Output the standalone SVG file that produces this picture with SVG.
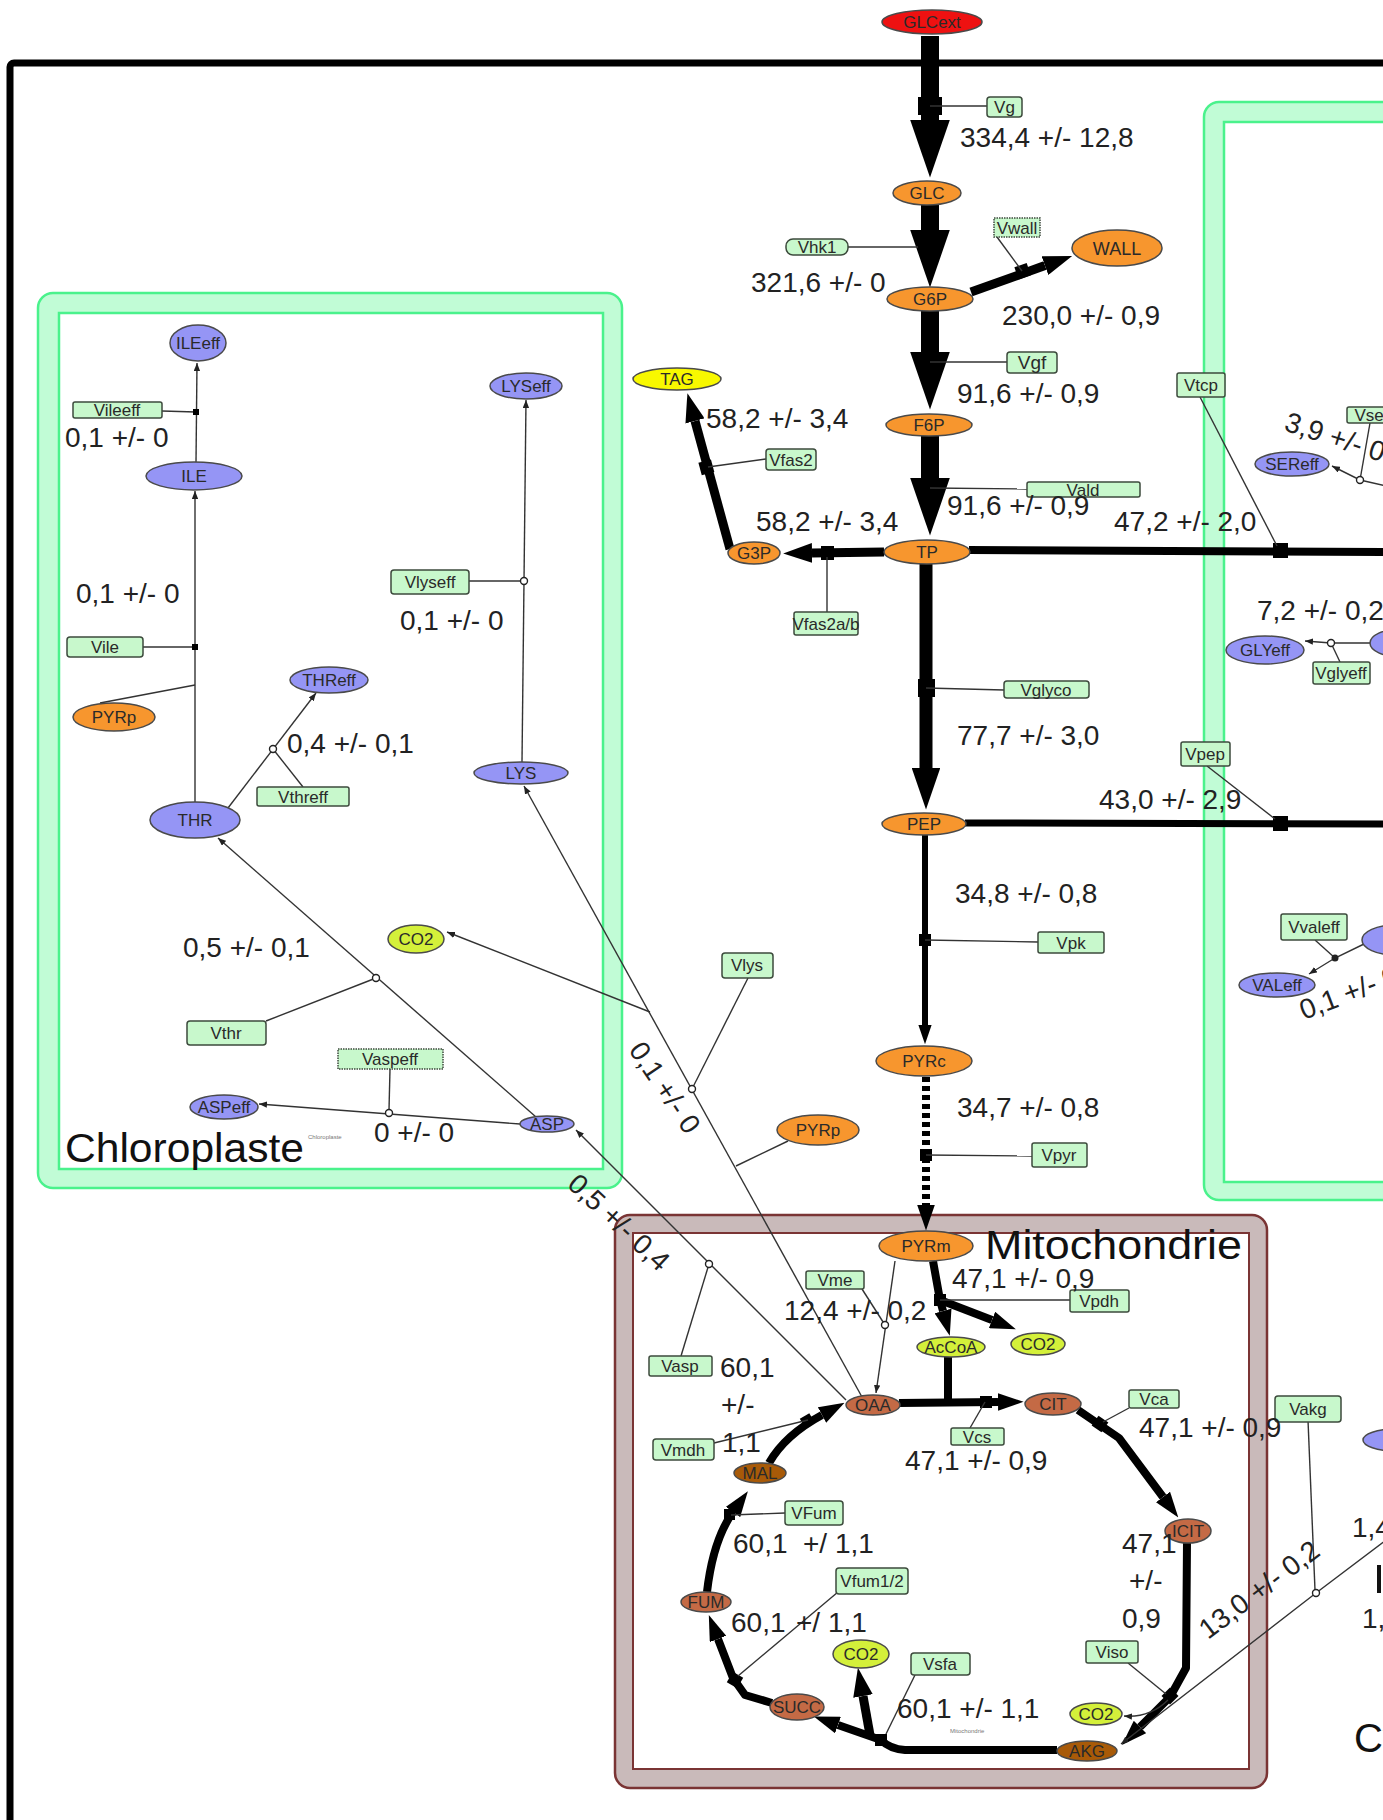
<svg xmlns="http://www.w3.org/2000/svg" width="1383" height="1820" viewBox="0 0 1383 1820">
<defs>
<style>
text{font-family:"Liberation Sans",Arial,sans-serif}
.nl{font-size:17px;fill:#2a2a2a;text-anchor:middle}
.fl{font-size:28px;fill:#222}
.big{font-size:40px;fill:#111}
.tiny{font-size:6px;fill:#777}
.ox{fill:#f7962e;stroke:#4a4a4a;stroke-width:1.5}
.bl{fill:#9595f5;stroke:#4a4a4a;stroke-width:1.5}
.br{fill:#c46a45;stroke:#4a4a4a;stroke-width:1.5}
.db{fill:#a85a08;stroke:#4a4a4a;stroke-width:1.5}
.lm{fill:#d4f03a;stroke:#4a4a4a;stroke-width:1.5}
.rd{fill:#ee1111;stroke:#4a4a4a;stroke-width:1.5}
.ye{fill:#f8f800;stroke:#4a4a4a;stroke-width:1.5}
.bx{fill:#c8f8cc;stroke:#3c4a3c;stroke-width:1.5}
.dt{stroke-dasharray:1.5 1}
.th{fill:none;stroke:#000;stroke-linejoin:round;marker-end:url(#ah)}
.tk{fill:none;stroke:#000;stroke-linejoin:round}
.dash{stroke-dasharray:5 4}
.tn{fill:none;stroke:#333;stroke-width:1.4}
.ta{fill:none;stroke:#333;stroke-width:1.4;marker-end:url(#sa)}
.rn{fill:#000}
.oc{fill:#fff;stroke:#222;stroke-width:1.4}
.gb{fill:#c1fcd6;stroke:#4af28c;stroke-width:2.5}
.gi{fill:#fff;stroke:#4af28c;stroke-width:2.5}
.mb{fill:#c9baba;stroke:#7a3434;stroke-width:2.5}
.mi{fill:#fff;stroke:#7a3434;stroke-width:2}
</style>
<marker id="ah" viewBox="0 0 16 11" refX="0" refY="5.5" markerUnits="strokeWidth" markerWidth="3.2" markerHeight="2.2" orient="auto"><path d="M0,0 L16,5.5 L0,11 z" fill="#000"/></marker>
<marker id="sa" viewBox="0 0 10 8" refX="10" refY="4" markerUnits="userSpaceOnUse" markerWidth="8" markerHeight="6.4" orient="auto"><path d="M0,0 L10,4 L0,8 z" fill="#222"/></marker>
</defs>
<rect width="1383" height="1820" fill="#fff"/>
<rect x="10" y="63" width="1450" height="1800" rx="4" fill="none" stroke="#000" stroke-width="7"/>

<g id="compartments">
<g id="chloroplaste">
<rect class="gb" x="38" y="293" width="584" height="895" rx="15"/>
<rect class="gi" x="59" y="313" width="544" height="856"/>
<text class="big" x="65" y="1162" textLength="239" lengthAdjust="spacingAndGlyphs">Chloroplaste</text>
<text class="tiny" x="308" y="1139">Chloroplaste</text>
</g>
<g id="compartment-right">
<rect class="gb" x="1204" y="102" width="300" height="1098" rx="15"/>
<rect class="gi" x="1224" y="122" width="300" height="1060"/>
</g>
<g id="mitochondrie">
<rect class="mb" x="615" y="1215" width="652" height="573" rx="15"/>
<rect class="mi" x="633" y="1233" width="616" height="536"/>
<text class="big" x="985" y="1259" textLength="257" lengthAdjust="spacingAndGlyphs">Mitochondrie</text>
<text class="tiny" x="950" y="1733">Mitochondrie</text>
</g>
<text class="big" x="1354" y="1752">Cy</text>
<rect x="1377" y="1565" width="4" height="28" fill="#111"/>
</g>

<g id="connectors">
<path class="th" stroke-width="18" d="M930,36 L930,120"/>
<path class="th" stroke-width="18" d="M930,205 L930,230"/>
<path class="th" stroke-width="18" d="M930,311 L930,352"/>
<path class="th" stroke-width="18" d="M930,436 L930,478"/>
<path class="th" stroke-width="13" d="M926,564 L926,768"/>
<path class="th" stroke-width="9" d="M971,292 L1045,265.6"/>
<path class="th" stroke-width="9" d="M884,552 L812,553"/>
<path class="th" stroke-width="9" d="M730,549 L695,421"/>
<path class="tk" stroke-width="8" d="M969,550 L1390,552"/>
<path class="tk" stroke-width="7" d="M965,823 L1390,824"/>
<path class="th" stroke-width="6" d="M925,835 L925,1025"/>
<path class="th dash" stroke-width="8" d="M926,1077 L926,1205"/>
<path class="th" stroke-width="8" d="M933,1261 L940,1300 L943,1311"/>
<path class="th" stroke-width="8" d="M940,1300 L992,1320"/>
<path class="tk" stroke-width="8" d="M948,1357 L948,1402"/>
<path class="th" stroke-width="8" d="M899,1403 L998,1402"/>
<path class="th" stroke-width="8" d="M1078,1410 L1100,1425 L1119,1438 L1163,1497"/>
<path class="th" stroke-width="8" d="M1187,1543 L1186,1668 L1170,1697 L1140,1727"/>
<path class="th" stroke-width="8" d="M1057,1750 L905,1750 Q890,1749 881,1740 L838,1725"/>
<path class="th" stroke-width="9" d="M870,1735 L863,1696"/>
<path class="th" stroke-width="8" d="M772,1703 L745,1695 L733,1678 L718,1639"/>
<path class="th" stroke-width="8" d="M707,1592 Q713,1540 733,1512"/>
<path class="th" stroke-width="8" d="M769,1463 Q785,1435 822,1415"/>
<rect class="rn" x="918" y="97" width="24" height="18"/>
<rect class="rn" x="917" y="354" width="26" height="16"/>
<rect class="rn" x="917" y="481" width="26" height="14"/>
<rect class="rn" x="918" y="679" width="17" height="18"/>
<rect class="rn" x="1016" y="265" width="13" height="13" transform="rotate(-19 1022 271)"/>
<rect class="rn" x="821" y="546" width="13" height="14"/>
<rect class="rn" x="700" y="461" width="13" height="13" transform="rotate(-15 706 468)"/>
<rect class="rn" x="1273" y="543" width="15" height="15"/>
<rect class="rn" x="1273" y="816" width="15" height="15"/>
<rect class="rn" x="919" y="934" width="12" height="12"/>
<rect class="rn" x="920" y="1149" width="12" height="12"/>
<rect class="rn" x="934" y="1294" width="12" height="12"/>
<rect class="rn" x="980" y="1396" width="12" height="12"/>
<rect class="rn" x="1094" y="1418" width="12" height="12" transform="rotate(35 1100 1424)"/>
<rect class="rn" x="1164" y="1690" width="12" height="12" transform="rotate(45 1170 1696)"/>
<rect class="rn" x="875" y="1734" width="12" height="12"/>
<rect class="rn" x="729" y="1674" width="12" height="12" transform="rotate(30 735 1680)"/>
<rect class="rn" x="724" y="1509" width="11" height="11"/>
<rect class="rn" x="802" y="1415" width="11" height="11" transform="rotate(-30 808 1421)"/>
<path class="tn" d="M930,106 L987,106"/>
<path class="tn" d="M848,247 L918,247"/>
<path class="tn" d="M997,237 L1022,271"/>
<path class="tn" d="M930,362 L1007,362"/>
<path class="tn" d="M930,488 L1027,489"/>
<path class="tn" d="M708,467 L766,459"/>
<path class="tn" d="M827,557 L827,612"/>
<path class="tn" d="M1200,397 L1277,546"/>
<path class="tn" d="M926,688 L1004,690"/>
<path class="tn" d="M1207,766 L1275,819"/>
<path class="tn" d="M925,940 L1038,942"/>
<path class="tn" d="M926,1155 L1032,1156"/>
<path class="tn" d="M940,1300 L1070,1300"/>
<path class="tn" d="M985,1402 L970,1428"/>
<path class="tn" d="M1103,1422 L1129,1408"/>
<path class="tn" d="M1128,1663 L1166,1694"/>
<path class="tn" d="M915,1675 L886,1734"/>
<path class="tn" d="M838,1592 L738,1676"/>
<path class="tn" d="M785,1513 L731,1515"/>
<path class="tn" d="M714,1443 L808,1420"/>
<path class="ta" d="M1168,1700 Q1150,1718 1124,1716"/>
<path class="ta" d="M196,462 L197,363"/>
<path class="ta" d="M195,802 L195,491"/>
<path class="tn" d="M162,411 L196,412"/>
<path class="tn" d="M143,647 L195,647"/>
<path class="tn" d="M100,703 L195,685"/>
<path class="ta" d="M228,808 L316,693"/>
<path class="tn" d="M273,749 L303,787"/>
<path class="ta" d="M522,762 L526,400"/>
<path class="tn" d="M469,581 L524,581"/>
<path class="ta" d="M862,1397 L524,786"/>
<path class="tn" d="M692,1089 L748,978"/>
<path class="tn" d="M788,1141 L736,1166"/>
<path class="ta" d="M650,1012 L447,932"/>
<path class="ta" d="M536,1117 L218,838"/>
<path class="tn" d="M266,1021 L376,978"/>
<path class="ta" d="M520,1124 L259,1104"/>
<path class="tn" d="M390,1069 L389,1110"/>
<path class="ta" d="M846,1400 L576,1130"/>
<path class="tn" d="M709,1264 L681,1356"/>
<path class="ta" d="M895,1261 L876,1393"/>
<path class="tn" d="M862,1289 L885,1325"/>
<path class="ta" d="M1395,488 L1360,480 L1332,466"/>
<path class="tn" d="M1370,423 L1360,480"/>
<path class="ta" d="M1372,643 L1331,643 L1305,641"/>
<path class="tn" d="M1331,643 L1340,662"/>
<path class="ta" d="M1364,944 L1335,958 L1309,974"/>
<path class="tn" d="M1315,940 L1335,958"/>
<path class="ta" d="M1390,1537 L1316,1593 L1121,1744"/>
<path class="tn" d="M1307,1396 L1315,1590"/>
<rect class="rn" x="193" y="409" width="6" height="6"/>
<rect class="rn" x="192" y="644" width="6" height="6"/>
<circle class="oc" cx="273" cy="749" r="3.5"/>
<circle class="oc" cx="524" cy="581" r="3.5"/>
<circle class="oc" cx="692" cy="1089" r="3.5"/>
<circle class="oc" cx="376" cy="978" r="3.5"/>
<circle class="oc" cx="389" cy="1113" r="3.5"/>
<circle class="oc" cx="709" cy="1264" r="3.5"/>
<circle class="oc" cx="885" cy="1325" r="3.5"/>
<circle class="oc" cx="1360" cy="480" r="3.5"/>
<circle class="oc" cx="1331" cy="643" r="3.5"/>
<circle cx="1335" cy="958" r="3.5" fill="#222"/>
<circle class="oc" cx="1316" cy="1593" r="3.5"/>
</g>

<g id="n-GLCext"><ellipse class="rd" cx="932" cy="22" rx="50" ry="12"/><text class="nl" x="932" y="28">GLCext</text></g>
<g id="n-GLC"><ellipse class="ox" cx="927" cy="193" rx="34" ry="12"/><text class="nl" x="927" y="199">GLC</text></g>
<g id="n-G6P"><ellipse class="ox" cx="930" cy="299" rx="43" ry="12"/><text class="nl" x="930" y="305">G6P</text></g>
<g id="n-WALL"><ellipse class="ox" cx="1117" cy="248" rx="45" ry="18"/><text class="nl" x="1117" y="255" style="font-size:18px">WALL</text></g>
<g id="n-F6P"><ellipse class="ox" cx="929" cy="425" rx="43" ry="11"/><text class="nl" x="929" y="431">F6P</text></g>
<g id="n-TAG"><ellipse class="ye" cx="677" cy="379" rx="44" ry="11"/><text class="nl" x="677" y="385">TAG</text></g>
<g id="n-G3P"><ellipse class="ox" cx="754" cy="553" rx="26" ry="11"/><text class="nl" x="754" y="559">G3P</text></g>
<g id="n-TP"><ellipse class="ox" cx="927" cy="552" rx="43" ry="12"/><text class="nl" x="927" y="558">TP</text></g>
<g id="n-PEP"><ellipse class="ox" cx="924" cy="824" rx="42" ry="11"/><text class="nl" x="924" y="830">PEP</text></g>
<g id="n-PYRc"><ellipse class="ox" cx="924" cy="1061" rx="48" ry="15"/><text class="nl" x="924" y="1067">PYRc</text></g>
<g id="n-PYRm"><ellipse class="ox" cx="926" cy="1246" rx="47" ry="15"/><text class="nl" x="926" y="1252">PYRm</text></g>
<g id="n-AcCoA"><ellipse class="lm" cx="951" cy="1347" rx="34" ry="10"/><text class="nl" x="951" y="1353">AcCoA</text></g>
<g id="n-CO2a"><ellipse class="lm" cx="1038" cy="1344" rx="27" ry="11"/><text class="nl" x="1038" y="1350">CO2</text></g>
<g id="n-OAA"><ellipse class="br" cx="873" cy="1405" rx="27" ry="10"/><text class="nl" x="873" y="1411">OAA</text></g>
<g id="n-CIT"><ellipse class="br" cx="1053" cy="1404" rx="28" ry="11"/><text class="nl" x="1053" y="1410">CIT</text></g>
<g id="n-ICIT"><ellipse class="br" cx="1188" cy="1531" rx="23" ry="12"/><text class="nl" x="1188" y="1537">ICIT</text></g>
<g id="n-AKG"><ellipse class="db" cx="1087" cy="1751" rx="30" ry="10"/><text class="nl" x="1087" y="1757">AKG</text></g>
<g id="n-CO2b"><ellipse class="lm" cx="1096" cy="1714" rx="26" ry="11"/><text class="nl" x="1096" y="1720">CO2</text></g>
<g id="n-CO2c"><ellipse class="lm" cx="861" cy="1654" rx="28" ry="14"/><text class="nl" x="861" y="1660">CO2</text></g>
<g id="n-SUCC"><ellipse class="br" cx="797" cy="1707" rx="27" ry="13"/><text class="nl" x="797" y="1713">SUCC</text></g>
<g id="n-FUM"><ellipse class="br" cx="706" cy="1602" rx="25" ry="10"/><text class="nl" x="706" y="1608">FUM</text></g>
<g id="n-MAL"><ellipse class="db" cx="760" cy="1473" rx="26" ry="10"/><text class="nl" x="760" y="1479">MAL</text></g>
<g id="n-ILEeff"><ellipse class="bl" cx="198" cy="343" rx="28" ry="18"/><text class="nl" x="198" y="349">ILEeff</text></g>
<g id="n-ILE"><ellipse class="bl" cx="194" cy="476" rx="48" ry="14"/><text class="nl" x="194" y="482">ILE</text></g>
<g id="n-PYRp1"><ellipse class="ox" cx="114" cy="717" rx="41" ry="14"/><text class="nl" x="114" y="723">PYRp</text></g>
<g id="n-THR"><ellipse class="bl" cx="195" cy="820" rx="45" ry="18"/><text class="nl" x="195" y="826">THR</text></g>
<g id="n-THReff"><ellipse class="bl" cx="329" cy="680" rx="39" ry="13"/><text class="nl" x="329" y="686">THReff</text></g>
<g id="n-LYSeff"><ellipse class="bl" cx="526" cy="386" rx="36" ry="13"/><text class="nl" x="526" y="392">LYSeff</text></g>
<g id="n-LYS"><ellipse class="bl" cx="521" cy="773" rx="47" ry="11"/><text class="nl" x="521" y="779">LYS</text></g>
<g id="n-CO2d"><ellipse class="lm" cx="416" cy="939" rx="28" ry="14"/><text class="nl" x="416" y="945">CO2</text></g>
<g id="n-ASP"><ellipse class="bl" cx="547" cy="1124" rx="27" ry="8"/><text class="nl" x="547" y="1130">ASP</text></g>
<g id="n-ASPeff"><ellipse class="bl" cx="224" cy="1107" rx="34" ry="12"/><text class="nl" x="224" y="1113">ASPeff</text></g>
<g id="n-PYRp2"><ellipse class="ox" cx="818" cy="1130" rx="41" ry="15"/><text class="nl" x="818" y="1136">PYRp</text></g>
<g id="n-SEReff"><ellipse class="bl" cx="1292" cy="464" rx="37" ry="12"/><text class="nl" x="1292" y="470">SEReff</text></g>
<g id="n-GLYeff"><ellipse class="bl" cx="1265" cy="650" rx="39" ry="14"/><text class="nl" x="1265" y="656">GLYeff</text></g>
<g id="n-VALeff"><ellipse class="bl" cx="1277" cy="985" rx="38" ry="12"/><text class="nl" x="1277" y="991">VALeff</text></g>
<g id="n-edge1"><ellipse class="bl" cx="1400" cy="643" rx="30" ry="14"/></g>
<g id="n-edge2"><ellipse class="bl" cx="1395" cy="940" rx="33" ry="15"/></g>
<g id="n-edge3"><ellipse class="bl" cx="1395" cy="1440" rx="32" ry="11"/></g>

<g id="r-Vg"><rect class="bx" x="987" y="97" width="35" height="20" rx="3"/><text class="nl" x="1004.5" y="113">Vg</text></g>
<g id="r-Vhk1"><rect class="bx" x="786" y="239" width="62" height="16" rx="7"/><text class="nl" x="817" y="253">Vhk1</text></g>
<g id="r-Vwall"><rect class="bx dt" x="994" y="218" width="46" height="19"/><text class="nl" x="1017" y="234">Vwall</text></g>
<g id="r-Vgf"><rect class="bx" x="1007" y="352" width="50" height="21" rx="3"/><text class="nl" x="1032" y="369" style="font-size:19px">Vgf</text></g>
<g id="r-Vtcp"><rect class="bx" x="1177" y="373" width="48" height="24" rx="2"/><text class="nl" x="1201" y="391">Vtcp</text></g>
<g id="r-Vfas2"><rect class="bx" x="766" y="449" width="50" height="21" rx="3"/><text class="nl" x="791" y="466">Vfas2</text></g>
<g id="r-Vald"><rect class="bx" x="1027" y="482" width="113" height="15" rx="2"/><text class="nl" x="1083" y="496">Vald</text></g>
<g id="r-Vfas2ab"><rect class="bx" x="794" y="612" width="64" height="23" rx="2"/><text class="nl" x="826" y="630">Vfas2a/b</text></g>
<g id="r-Vglyco"><rect class="bx" x="1004" y="681" width="85" height="17" rx="3"/><text class="nl" x="1046" y="696">Vglyco</text></g>
<g id="r-Vpep"><rect class="bx" x="1181" y="742" width="49" height="24" rx="2"/><text class="nl" x="1205" y="760">Vpep</text></g>
<g id="r-Vpk"><rect class="bx" x="1038" y="932" width="66" height="21" rx="2"/><text class="nl" x="1071" y="949">Vpk</text></g>
<g id="r-Vpyr"><rect class="bx" x="1032" y="1143" width="55" height="24" rx="2"/><text class="nl" x="1059" y="1161">Vpyr</text></g>
<g id="r-Vpdh"><rect class="bx" x="1070" y="1290" width="59" height="22" rx="2"/><text class="nl" x="1099" y="1307">Vpdh</text></g>
<g id="r-Vme"><rect class="bx" x="806" y="1271" width="58" height="18" rx="2"/><text class="nl" x="835" y="1286">Vme</text></g>
<g id="r-Vasp"><rect class="bx" x="649" y="1356" width="63" height="20" rx="2"/><text class="nl" x="680" y="1372">Vasp</text></g>
<g id="r-Vmdh"><rect class="bx" x="653" y="1439" width="61" height="21" rx="3"/><text class="nl" x="683" y="1456">Vmdh</text></g>
<g id="r-VFum"><rect class="bx" x="785" y="1501" width="58" height="24" rx="3"/><text class="nl" x="814" y="1519">VFum</text></g>
<g id="r-Vfum12"><rect class="bx" x="836" y="1568" width="72" height="26" rx="3"/><text class="nl" x="872" y="1587">Vfum1/2</text></g>
<g id="r-Vsfa"><rect class="bx" x="911" y="1653" width="59" height="22" rx="3"/><text class="nl" x="940" y="1670">Vsfa</text></g>
<g id="r-Vcs"><rect class="bx" x="951" y="1428" width="53" height="17" rx="2"/><text class="nl" x="977" y="1443">Vcs</text></g>
<g id="r-Vca"><rect class="bx" x="1129" y="1390" width="50" height="18" rx="2"/><text class="nl" x="1154" y="1405">Vca</text></g>
<g id="r-Viso"><rect class="bx" x="1086" y="1641" width="52" height="22" rx="2"/><text class="nl" x="1112" y="1658">Viso</text></g>
<g id="r-Vakg"><rect class="bx" x="1275" y="1396" width="66" height="26" rx="3"/><text class="nl" x="1308" y="1415">Vakg</text></g>
<g id="r-Vileeff"><rect class="bx" x="73" y="402" width="89" height="16" rx="2"/><text class="nl" x="117" y="416">Vileeff</text></g>
<g id="r-Vile"><rect class="bx" x="67" y="637" width="76" height="20" rx="3"/><text class="nl" x="105" y="653">Vile</text></g>
<g id="r-Vthreff"><rect class="bx" x="257" y="787" width="92" height="19" rx="2"/><text class="nl" x="303" y="803">Vthreff</text></g>
<g id="r-Vlyseff"><rect class="bx" x="391" y="570" width="78" height="24" rx="3"/><text class="nl" x="430" y="588">Vlyseff</text></g>
<g id="r-Vthr"><rect class="bx" x="187" y="1021" width="79" height="24" rx="3"/><text class="nl" x="226" y="1039">Vthr</text></g>
<g id="r-Vaspeff"><rect class="bx dt" x="338" y="1049" width="105" height="20"/><text class="nl" x="390" y="1065">Vaspeff</text></g>
<g id="r-Vlys"><rect class="bx" x="722" y="953" width="51" height="25" rx="3"/><text class="nl" x="747" y="971">Vlys</text></g>
<g id="r-Vglyeff"><rect class="bx" x="1313" y="662" width="57" height="22" rx="2"/><text class="nl" x="1341" y="679">Vglyeff</text></g>
<g id="r-Vvaleff"><rect class="bx" x="1281" y="914" width="66" height="26" rx="2"/><text class="nl" x="1314" y="933">Vvaleff</text></g>
<g id="r-Vser"><rect class="bx" x="1347" y="407" width="50" height="16" rx="2"/><text class="nl" x="1372" y="421">Vser</text></g>

<g id="fluxes">
<text class="fl" x="960" y="147">334,4 +/- 12,8</text>
<text class="fl" x="751" y="292">321,6 +/- 0</text>
<text class="fl" x="1002" y="325">230,0 +/- 0,9</text>
<text class="fl" x="957" y="403">91,6 +/- 0,9</text>
<text class="fl" x="706" y="428">58,2 +/- 3,4</text>
<text class="fl" x="756" y="531">58,2 +/- 3,4</text>
<text class="fl" x="947" y="515">91,6 +/- 0,9</text>
<text class="fl" x="1114" y="531">47,2 +/- 2,0</text>
<text class="fl" x="957" y="745">77,7 +/- 3,0</text>
<text class="fl" x="1099" y="809">43,0 +/- 2,9</text>
<text class="fl" x="955" y="903">34,8 +/- 0,8</text>
<text class="fl" x="957" y="1117">34,7 +/- 0,8</text>
<text class="fl" x="952" y="1288">47,1 +/- 0,9</text>
<text class="fl" x="784" y="1320">12,4 +/- 0,2</text>
<text class="fl" x="905" y="1470">47,1 +/- 0,9</text>
<text class="fl" x="1139" y="1437">47,1 +/- 0,9</text>
<text class="fl" x="1122" y="1553">47,1</text>
<text class="fl" x="1129" y="1590">+/-</text>
<text class="fl" x="1122" y="1628">0,9</text>
<text class="fl" x="720" y="1377">60,1</text>
<text class="fl" x="721" y="1414">+/-</text>
<text class="fl" x="722" y="1452">1,1</text>
<text class="fl" y="1553"><tspan x="733">60,1</tspan><tspan x="803">+/ 1,1</tspan></text>
<text class="fl" y="1632"><tspan x="731">60,1</tspan><tspan x="796">+/ 1,1</tspan></text>
<text class="fl" x="897" y="1718">60,1 +/- 1,1</text>
<text class="fl" x="65" y="447">0,1 +/- 0</text>
<text class="fl" x="76" y="603">0,1 +/- 0</text>
<text class="fl" x="400" y="630">0,1 +/- 0</text>
<text class="fl" x="287" y="753">0,4 +/- 0,1</text>
<text class="fl" x="183" y="957">0,5 +/- 0,1</text>
<text class="fl" x="374" y="1142">0 +/- 0</text>
<text class="fl" x="1257" y="620">7,2 +/- 0,2</text>
<text class="fl" x="1352" y="1537">1,4</text>
<text class="fl" x="1362" y="1628">1,</text>
<text class="fl" transform="translate(628,1050) rotate(56)">0,1 +/- 0</text>
<text class="fl" transform="translate(566,1186) rotate(43)">0,5 +/- 0,4</text>
<text class="fl" transform="translate(1208,1640) rotate(-37)">13,0 +/- 0,2</text>
<text class="fl" transform="translate(1283,430) rotate(18)">3,9 +/- 0</text>
<text class="fl" transform="translate(1304,1020) rotate(-21)">0,1 +/- 0</text>
</g>
</svg>
